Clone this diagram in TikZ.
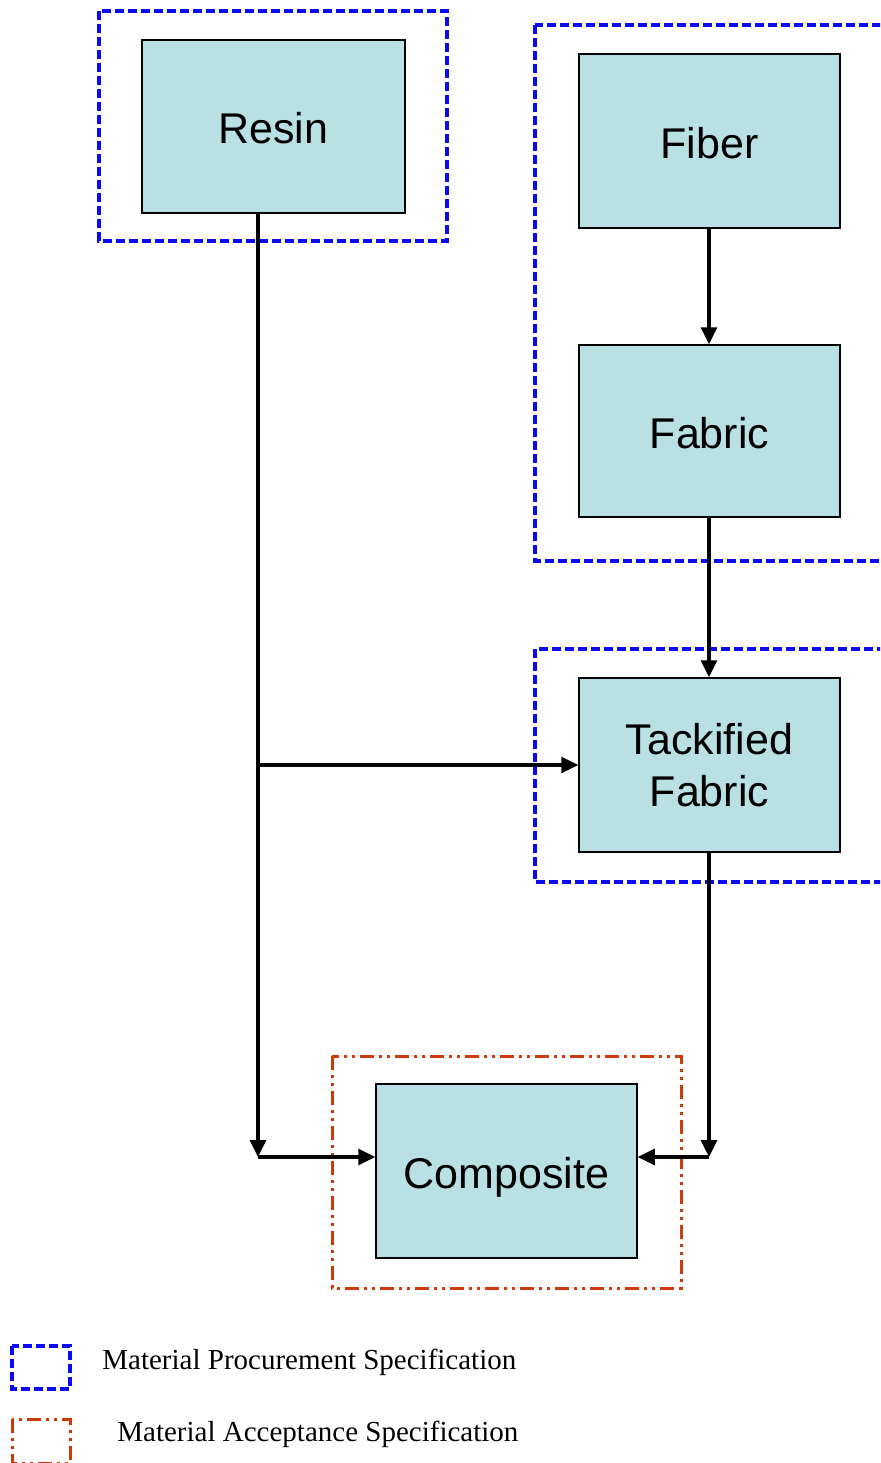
\documentclass[tikz,border=0pt]{standalone}
\usepackage{fontspec}
\setmainfont{Liberation Serif}
\newfontfamily\boxfont{Liberation Sans}
\usetikzlibrary{arrows.meta}
\definecolor{boxfill}{HTML}{B9E0E2}
\definecolor{specblue}{HTML}{0A0AF5}
\definecolor{specred}{HTML}{CF3A0C}
\tikzset{
  matbox/.style={draw=black, line width=0.75pt, fill=boxfill, inner sep=0pt,
    minimum width=130.5pt, minimum height=87pt, align=center,
    font=\boxfont\fontsize{21.5}{26}\selectfont},
  oneline/.style={text height=18pt, text depth=1pt},
  procure/.style={draw=specblue, line width=2pt, dash pattern=on 4.5pt off 2pt},
  accept/.style={draw=specred, line width=1.5pt, dash pattern=on 7pt off 2.5pt on 1.5pt off 2.5pt on 1.5pt off 2.5pt},
  flow/.style={draw=black, line width=1.6pt, -{Triangle[length=8.5pt, width=8pt]}},
  legendtext/.style={anchor=west, inner sep=0pt, font=\fontsize{14.5}{17}\selectfont}
}
\begin{document}
\begin{tikzpicture}[x=0.5pt, y=-0.5pt]
\useasboundingbox (0,0) rectangle (880,1463);
\begin{scope}
\clip (0,0) rectangle (880,1463);
% group frames
\draw[procure] (99,11) rectangle (447,241);
\draw[procure] (535,25) rectangle (900,561);
\draw[procure] (535,649) rectangle (900,882);
\draw[accept] (332,1056) rectangle (681,1288);
% boxes
\node[matbox, oneline, minimum width=131.5pt, minimum height=86.5pt] (resin) at (273.5,126.5) {Resin};
\node[matbox, oneline] (fiber) at (709.5,141) {Fiber};
\node[matbox, oneline, minimum height=86pt] (fabric) at (709.5,431) {Fabric};
\node[matbox] (tack) at (709.5,765) {Tackified\\Fabric};
\node[matbox, oneline] (comp) at (506.5,1171) {Composite};
% junctions
\coordinate (rj) at (258,1157);
\coordinate (rb) at (258,765);
\coordinate (tj) at (709,1157);
% connectors
\draw[flow] (resin.south -| rj) -- (rj);
\draw[flow] (rb) -- (rb -| tack.west);
\draw[flow] (rj) -- (rj -| comp.west);
\draw[flow] (fiber.south -| tj) -- (fabric.north -| tj);
\draw[flow] (fabric.south -| tj) -- (tack.north -| tj);
\draw[flow] (tack.south -| tj) -- (tj);
\draw[flow] (tj) -- (tj -| comp.east);
% legend
\draw[procure] (12,1346) rectangle (70,1389);
\node[legendtext] (lp) at (102,1362) {Material Procurement Specification};
\draw[accept] (12,1419) rectangle (70,1463);
\node[legendtext] (la) at (117,1434) {Material Acceptance Specification};
\end{scope}
\end{tikzpicture}
\end{document}
